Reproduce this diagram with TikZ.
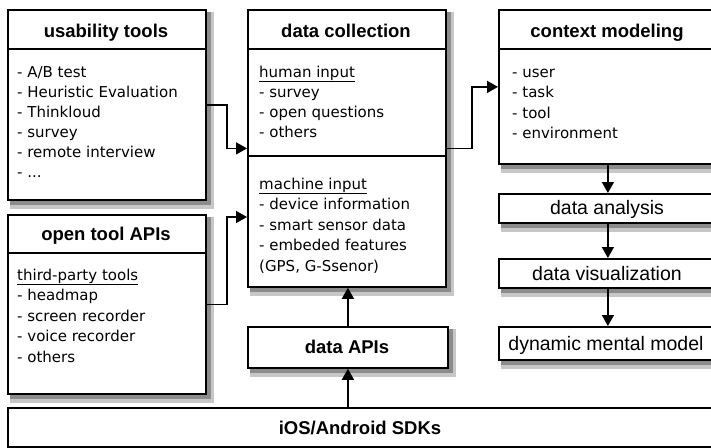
\documentclass[tikz,border=0pt]{standalone}
\usepackage{fontspec}
\setmainfont{Liberation Sans}
\newfontfamily\itemfont{DejaVu Sans}
\usetikzlibrary{arrows.meta,backgrounds,calc}
\begin{document}
\begin{tikzpicture}[x=1pt,y=-1pt,
  box/.style={draw=black, line width=1.8pt, fill=white, anchor=north west, inner sep=0pt},
  shd/.style={fill=black!22},
  shd2/.style={fill=black!45},
  ttl/.style={font=\fontsize{18.5}{20}\selectfont\bfseries, inner sep=0pt, anchor=base},
  lbl/.style={font=\fontsize{19.5}{22}\selectfont, inner sep=0pt, anchor=base},
  itm/.style={font=\itemfont\fontsize{15}{20}\selectfont, anchor=base west, inner sep=0pt},
  conn/.style={line width=1.5pt, -{Triangle[length=11pt,width=12pt]}},
  sep/.style={line width=1.5pt}]
\useasboundingbox (0,0) rectangle (711,447);

% usability tools
\node[box, minimum width=198pt, minimum height=190pt] (ut) at (7,9) {};
\draw[sep] (7,49) -- (205,49);
\node[ttl] (utt) at (106,37) {usability tools};
\foreach \t [count=\i] in {- A/B test, - Heuristic Evaluation, - Thinkloud, - survey, - remote interview}
  \node[itm] (ut\i) at (17,{77+20*(\i-1)}) {\t};
\node[itm] (ut6) at (17,177) {- ...};

% open tool APIs
\node[box, minimum width=198pt, minimum height=179pt] (ota) at (7,214) {};
\draw[sep] (7,253) -- (205,253);
\node[ttl] (otat) at (106,240.5) {open tool APIs};
\node[itm] (ota0) at (17,280) {\underline{third-party tools}};
\foreach \t [count=\i] in {- headmap, - screen recorder, - voice recorder, - others}
  \node[itm] (ota\i) at (17,{280+20.5*\i}) {\t};

% data collection
\node[box, minimum width=198pt, minimum height=277pt] (dc) at (247,9) {};
\draw[sep] (247,49) -- (445,49);
\draw[sep] (247,156) -- (445,156);
\node[ttl] (dct) at (346,37) {data collection};
\node[itm] (dch0) at (259,77) {\underline{human input}};
\foreach \t [count=\i] in {- survey, - open questions, - others}
  \node[itm] (dch\i) at (259,{77+20.3*\i}) {\t};
\node[itm] (dcm0) at (259,189) {\underline{machine input}};
\foreach \t [count=\i] in {- device information, - smart sensor data, - embeded features, {(GPS, G-Ssenor)}}
  \node[itm] (dcm\i) at (259,{189+20.5*\i}) {\t};
\coordinate (dcin) at (247,217);

% context modeling
\node[box, minimum width=218pt, minimum height=154pt] (cm) at (498,9) {};
\draw[sep] (498,49) -- (716,49);
\node[ttl] (cmt) at (607,37) {context modeling};
\foreach \t [count=\i] in {- user, - task, - tool, - environment}
  \node[itm] (cm\i) at (512,{77+20.5*(\i-1)}) {\t};

% right column
\node[box, minimum width=218pt, minimum height=29pt] (da) at (498,193) {};
\node[lbl] (dat) at (607,214) {data analysis};
\node[box, minimum width=218pt, minimum height=29pt] (dv) at (498,258) {};
\node[lbl] (dvt) at (607,280) {data visualization};
\node[box, minimum width=218pt, minimum height=33pt] (dm) at (498,326) {};
\node[lbl] (dmt) at (606,350) {dynamic mental model};

% data APIs
\node[box, minimum width=200pt, minimum height=41pt] (api) at (247,326) {};
\node[ttl] (apit) at (347,353) {data APIs};

% iOS
\node[box, minimum width=709pt, minimum height=39pt] (ios) at (7,407) {};
\node[ttl] (iost) at (360,434) {iOS/Android SDKs};

% shadows
\begin{scope}[on background layer]
\foreach \n in {ut,ota,dc,cm,da,dv,dm,api,ios} {
  \fill[shd] ($(\n.north west)+(3,3)$) rectangle ($(\n.south east)+(7,8)$);
  \fill[shd2] ($(\n.north west)+(3,3)$) rectangle ($(\n.south east)+(4,4.5)$);
}
\end{scope}

% connectors
\draw[conn] (ut.east) -- ++(20,0) |- (dc.west);
\draw[conn] (ota.east) -- ++(20,0) |- (dcin);
\draw[conn] (dc.east) -- ++(25,0) |- (cm.west);
\draw[conn] (cm.south) -- (da.north);
\draw[conn] (da.south) -- (dv.north);
\draw[conn] (dv.south) -- (dm.north);
\draw[conn] (api.north) -- (api.north |- dc.south);
\draw[conn] (api.south |- ios.north) -- (api.south);
\end{tikzpicture}
\end{document}
